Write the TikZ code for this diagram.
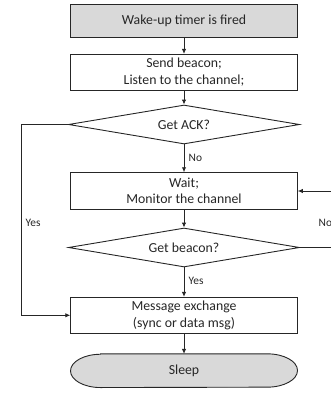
\documentclass[tikz,border=0pt]{standalone}
\usepackage{fontspec}
\setmainfont{Carlito}
\usetikzlibrary{shapes.geometric,arrows.meta}
\definecolor{ln}{HTML}{262626}
\definecolor{boxgray}{HTML}{D9D9D9}
\tikzset{
  every node/.style={text=ln},
  procbox/.style={draw=ln, line width=0.9pt, minimum width=226.6pt, inner sep=0pt, align=center, font=\fontsize{13.8}{16.3}\selectfont},
  decbox/.style={diamond, aspect=5.9, draw=ln, line width=0.9pt, minimum width=231pt, minimum height=39pt, inner sep=0pt, font=\fontsize{13.8}{16.3}\selectfont},
  lbl/.style={font=\fontsize{11.4}{13}\selectfont, inner sep=0pt},
  conn/.style={draw=ln, line width=0.9pt, -{Latex[length=5pt,width=4.5pt]}},
}
\begin{document}
\begin{tikzpicture}[x=1pt,y=-1pt]
\useasboundingbox (0,0) rectangle (331,393);
\node[procbox, fill=boxgray, minimum height=33pt] (b1) at (184,20.8) {Wake-up timer is fired};
\node[procbox, minimum height=35.7pt] (b2) at (184,72.2) {Send beacon;\\Listen to the channel;};
\node[decbox] (d1) at (184,124.5) {Get ACK?};
\node[procbox, minimum height=36.6pt] (b3) at (184,191) {Wait;\\Monitor the channel};
\node[decbox] (d2) at (184,247.5) {Get beacon?};
\node[procbox, minimum height=36pt] (b4) at (184,315.3) {Message exchange\\(sync or data msg)};
\node[draw=none, minimum width=226.6pt, minimum height=33.3pt, inner sep=0pt] (s) at (184,370.7) {};
\draw[draw=ln, line width=0.9pt, fill=boxgray]
  ([xshift=30pt]s.north west) -- ([xshift=-30pt]s.north east)
  arc[start angle=90, end angle=-90, x radius=30pt, y radius=16.65pt]
  -- ([xshift=30pt]s.south west)
  arc[start angle=270, end angle=90, x radius=30pt, y radius=16.65pt] -- cycle;
\node[font=\fontsize{13.8}{16.3}\selectfont] (st) at (s.center) {Sleep};

\coordinate (yl) at (21,124.5);
\coordinate (yb) at (21,315.3);
\coordinate (nr) at (345,247.5);
\coordinate (nt) at (345,191);

\draw[conn] (b1) -- (b2);
\draw[conn] (b2) -- (d1);
\draw[conn] (d1) -- (b3);
\draw[conn] (b3) -- (d2);
\draw[conn] (d2) -- (b4);
\draw[conn] (b4) -- (s);
\draw[conn] (d1.west) -- (yl) -- (yb) -- (b4.west);
\draw[conn] (d2.east) -- (nr) -- (nt) -- (b3.east);

\node[lbl, anchor=west] (no1) at (188.5,158) {No};
\node[lbl, anchor=west] (yes2) at (188.5,281) {Yes};
\node[lbl, anchor=west] (yes1) at (25.5,223) {Yes};
\node[lbl, anchor=west] (no2) at (318.5,223) {No};
\end{tikzpicture}
\end{document}
